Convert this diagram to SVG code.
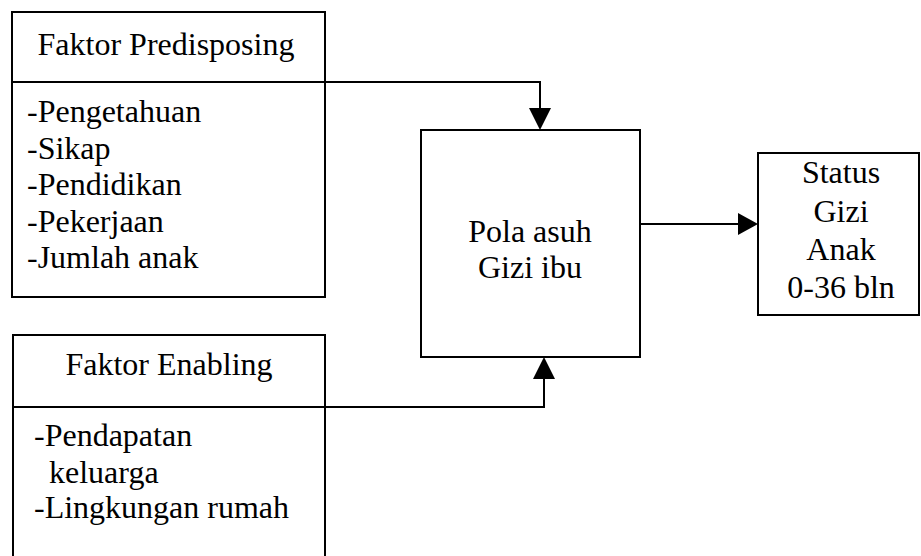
<svg xmlns="http://www.w3.org/2000/svg" width="921" height="556" viewBox="0 0 921 556">
  <style>
    .box { fill: none; stroke: #000; stroke-width: 2; }
    .wire { fill: none; stroke: #000; stroke-width: 2; }
    text { font-family: "Liberation Serif", "Times New Roman", serif; font-size: 32px; fill: #000; }
    .c { text-anchor: middle; }
  </style>
  <defs>
    <marker id="arrow" viewBox="0 0 10 10" refX="10" refY="5" markerWidth="10" markerHeight="10" markerUnits="userSpaceOnUse" orient="auto">
      <path d="M0,0 L10,5 L0,10 Z" fill="#000"/>
    </marker>
  </defs>
  <rect width="921" height="556" fill="#fff"/>

  <g id="predisposing">
    <rect class="box" x="12" y="12" width="313" height="285"/>
    <line class="box" x1="12" y1="82" x2="325" y2="82"/>
    <text class="c" x="166" y="55">Faktor Predisposing</text>
    <text x="27" y="122">-Pengetahuan</text>
    <text x="27" y="159">-Sikap</text>
    <text x="27" y="195">-Pendidikan</text>
    <text x="27" y="232">-Pekerjaan</text>
    <text x="27" y="268">-Jumlah anak</text>
  </g>

  <g id="enabling">
    <path class="box" d="M13,556 V335 H325 V556"/>
    <line class="box" x1="13" y1="407" x2="325" y2="407"/>
    <text class="c" x="169" y="375">Faktor Enabling</text>
    <text x="34" y="446">-Pendapatan</text>
    <text x="49" y="483">keluarga</text>
    <text x="34" y="518">-Lingkungan rumah</text>
  </g>

  <g id="pola-asuh">
    <rect class="box" x="421" y="130" width="219" height="227"/>
    <text class="c" x="530" y="242">Pola asuh</text>
    <text class="c" x="530" y="278">Gizi ibu</text>
  </g>

  <g id="status-gizi">
    <rect class="box" x="758" y="153" width="161" height="162"/>
    <text class="c" x="841" y="183">Status</text>
    <text class="c" x="841" y="222">Gizi</text>
    <text class="c" x="841" y="260">Anak</text>
    <text class="c" x="841" y="298">0-36 bln</text>
  </g>

  <g id="connectors">
    <path class="wire" d="M325,82 H540 V110"/>
    <path d="M529,108 L551,108 L540,130 Z" fill="#000"/>
    <path class="wire" d="M325,407 H544 V377"/>
    <path d="M533,379 L555,379 L544,357 Z" fill="#000"/>
    <path class="wire" d="M640,224 H740"/>
    <path d="M738,213 L758,224 L738,235 Z" fill="#000"/>
  </g>
</svg>
